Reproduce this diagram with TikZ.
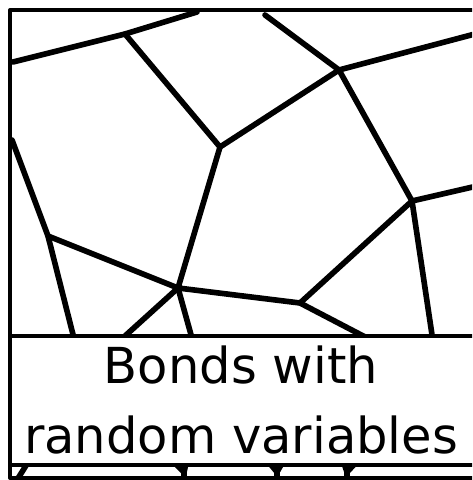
\documentclass[tikz,border=0pt]{standalone}
\usepackage{fontspec}
\newfontfamily\bondfont{DejaVu Sans}

\begin{document}
\begin{tikzpicture}[
  x=0.01cm,
  y=-0.01cm,
  line cap=round,
  line join=round,
  bond/.style={draw=black,line width=1.6pt},
  frame/.style={draw=black,line width=1.15pt,line cap=butt},
  caption box/.style={draw=black,fill=white,line width=1pt,line cap=butt},
  caption/.style={font=\bondfont\fontsize{14.1pt}{20pt}\selectfont,
    inner sep=0pt,anchor=base}
]
  \path[use as bounding box] (0,0) rectangle (472,480);
  \clip (0,0) rectangle (472,480);

  % Network vertices (y grows downwards).
  \coordinate (A) at (125,34);
  \coordinate (B) at (220,147);
  \coordinate (C) at (339,70);
  \coordinate (D) at (48,236);
  \coordinate (E) at (178,288);
  \coordinate (F) at (412,201);
  \coordinate (G) at (300,303);
  % Vertices under the caption box.
  \coordinate (H1) at (83,374);
  \coordinate (H2) at (205,385);
  \coordinate (H3) at (438,375);
  \coordinate (H4) at (320,395);
  \coordinate (V2) at (184,472);
  \coordinate (V3) at (277,472);
  \coordinate (V4) at (347,472);
  % Free ends on the frame.
  \coordinate (L1) at (13,62);
  \coordinate (L2) at (12,140);
  \coordinate (T1) at (197,12);
  \coordinate (T2) at (265,15);
  \coordinate (R1) at (490,30);
  \coordinate (R2) at (490,183);
  \coordinate (S1) at (17,480);
  \coordinate (S2) at (184,480);
  \coordinate (S3) at (277,480);
  \coordinate (S4) at (347,480);

  \draw[bond] (L1) -- (A) -- (T1);
  \draw[bond] (A) -- (B) -- (C) -- (T2);
  \draw[bond] (C) -- (R1);
  \draw[bond] (C) -- (F) -- (R2);
  \draw[bond] (F) -- (G) -- (E) -- (B);
  \draw[bond] (L2) -- (D) -- (E);
  \draw[bond] (D) -- (H1) -- (E);
  \draw[bond] (E) -- (H2);
  \draw[bond] (G) -- (H3) -- (F);
  \draw[bond] (H1) -- (S1);
  \draw[bond] (H1) -- (V2) -- (H2) -- (V3) -- (H4) -- (V4) -- (H3);
  \draw[bond] (H2) -- (H4);
  \foreach \cfV/\cfS in {V2/S2,V3/S3,V4/S4}{
    \draw[bond] (\cfV) -- (\cfS);
  }

  % Caption covers the lower part of the network.
  \draw[caption box] (10,336) rectangle (490,465);
  \node[caption] (caption top) at (241,383) {Bonds with};
  \node[caption] (caption bottom) at (241,453) {random variables};

  \draw[frame] (490,10) -- (10,10) -- (10,478) -- (490,478);
\end{tikzpicture}
\end{document}
